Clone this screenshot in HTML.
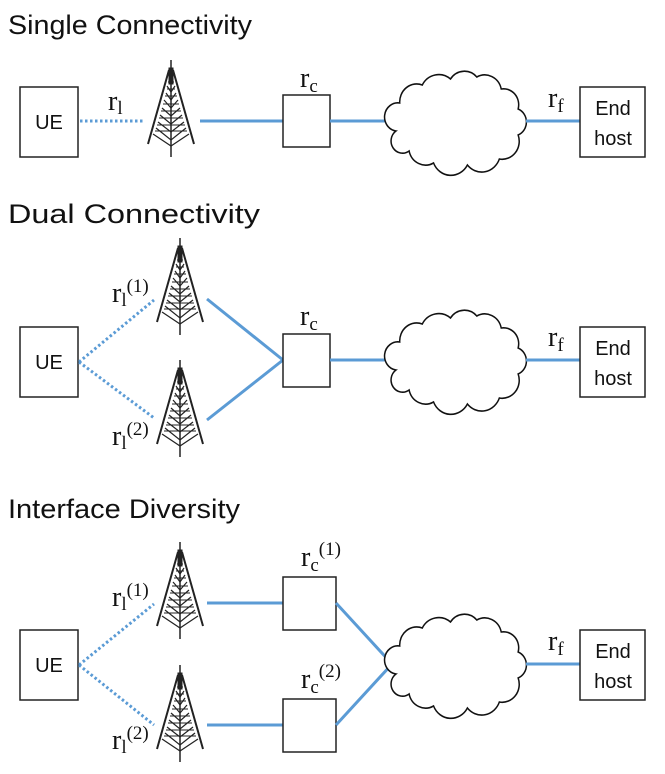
<!DOCTYPE html>
<html><head><meta charset="utf-8"><style>
html,body{margin:0;padding:0;background:#fff}
svg{display:block}
.t{font-family:"Liberation Sans",sans-serif;font-size:27px;fill:#111}
.s{font-family:"Liberation Sans",sans-serif;font-size:20px;fill:#111}
.m{font-family:"Liberation Serif",serif;font-size:28px;fill:#111}
.sub{font-size:19px}
.box{fill:#fff;stroke:#222;stroke-width:1.5}
.bl{stroke:#5b9bd5;stroke-width:3;fill:none}
.dt{stroke:#5b9bd5;stroke-width:3;fill:none;stroke-dasharray:2.5 2.5}
.cl{fill:#fff;stroke:#111;stroke-width:1.6}
</style></head><body>
<svg width="665" height="774" viewBox="0 0 665 774" xmlns="http://www.w3.org/2000/svg">
<defs>
<g id="tw" stroke="#222" fill="none">
<line x1="0" y1="0" x2="0" y2="97" stroke-width="1.5"/>
<path d="M-2,10 L-23,84 M2,10 L23,84" stroke-width="2"/>
<path d="M-2,18 L0,24 L2,18 M-4,26 L0,32 L4,26 M-5,33 L0,40 L5,33 M-7,40 L0,48 L7,40 M-9,48 L0,56 L9,48 M-11,55 L0,64 L11,55 M-13,62 L0,72 L13,62 M-15,68 L0,80 L15,68 M-18,74 L0,86 L18,74" stroke-width="1.2"/>
<path d="M-3,22 L3,22 M-4,29 L4,29 M-6,36 L6,36 M-8,44 L8,44 M-10,51 L10,51 M-12,58 L12,58 M-14,65 L14,65 M-16,71 L16,71" stroke-width="1"/>
<rect x="-2" y="8" width="4" height="16" fill="#222"/>
</g>
<path id="cloud" transform="scale(0.94,1)" d="M-66,10 A14,14 0 0 1 -62,-18 A18,18 0 0 1 -38,-36 A20,20 0 0 1 -8,-42 A18,18 0 0 1 20,-44 A18,18 0 0 1 46,-32 A16,16 0 0 1 64,-12 A14,14 0 0 1 64,14 A18,18 0 0 1 44,38 A20,20 0 0 1 10,44 A20,20 0 0 1 -26,42 A18,18 0 0 1 -52,30 A12,12 0 0 1 -66,10 Z"/>
</defs>

<!-- Section 1 -->
<text class="t" x="8" y="34" textLength="244" lengthAdjust="spacingAndGlyphs">Single Connectivity</text>
<rect class="box" x="20" y="87" width="58" height="70"/>
<text class="s" x="49" y="129" text-anchor="middle">UE</text>
<line class="dt" x1="80" y1="121" x2="144" y2="121"/>
<text class="m" x="108" y="110">r<tspan class="sub" dy="4">l</tspan></text>
<use href="#tw" x="171" y="60"/>
<line class="bl" x1="200" y1="121" x2="283" y2="121"/>
<rect class="box" x="283" y="95" width="47" height="52"/>
<text class="m" x="300" y="87">r<tspan class="sub" dy="5">c</tspan></text>
<line class="bl" x1="330" y1="121" x2="392" y2="121"/>
<use href="#cloud" x="458" y="121" class="cl"/>
<line class="bl" x1="526" y1="121" x2="580" y2="121"/>
<text class="m" x="548" y="107">r<tspan class="sub" dy="5">f</tspan></text>
<rect class="box" x="580" y="87" width="65" height="70"/>
<text class="s" x="613" y="115" text-anchor="middle">End</text>
<text class="s" x="613" y="145" text-anchor="middle">host</text>

<!-- Section 2 -->
<text class="t" x="8" y="223" textLength="252" lengthAdjust="spacingAndGlyphs">Dual Connectivity</text>
<rect class="box" x="20" y="327" width="58" height="70"/>
<text class="s" x="49" y="369" text-anchor="middle">UE</text>
<line class="dt" x1="79" y1="362" x2="154" y2="300"/>
<line class="dt" x1="79" y1="362" x2="154" y2="418"/>
<text class="m" x="112" y="302">r<tspan class="sub" dy="4">l</tspan><tspan class="sub" dy="-14">(1)</tspan></text>
<text class="m" x="112" y="445">r<tspan class="sub" dy="4">l</tspan><tspan class="sub" dy="-14">(2)</tspan></text>
<use href="#tw" x="180" y="238"/>
<use href="#tw" x="180" y="360"/>
<line class="bl" x1="207" y1="299" x2="283" y2="360"/>
<line class="bl" x1="207" y1="420" x2="283" y2="360"/>
<rect class="box" x="283" y="334" width="47" height="53"/>
<text class="m" x="300" y="325">r<tspan class="sub" dy="5">c</tspan></text>
<line class="bl" x1="330" y1="360" x2="392" y2="360"/>
<use href="#cloud" x="458" y="360" class="cl"/>
<line class="bl" x1="526" y1="360" x2="580" y2="360"/>
<text class="m" x="548" y="346">r<tspan class="sub" dy="5">f</tspan></text>
<rect class="box" x="580" y="327" width="65" height="70"/>
<text class="s" x="613" y="355" text-anchor="middle">End</text>
<text class="s" x="613" y="385" text-anchor="middle">host</text>

<!-- Section 3 -->
<text class="t" x="8" y="518" textLength="232" lengthAdjust="spacingAndGlyphs">Interface Diversity</text>
<rect class="box" x="20" y="630" width="58" height="70"/>
<text class="s" x="49" y="672" text-anchor="middle">UE</text>
<line class="dt" x1="79" y1="665" x2="154" y2="604"/>
<line class="dt" x1="79" y1="665" x2="154" y2="725"/>
<text class="m" x="112" y="606">r<tspan class="sub" dy="4">l</tspan><tspan class="sub" dy="-14">(1)</tspan></text>
<text class="m" x="112" y="749">r<tspan class="sub" dy="4">l</tspan><tspan class="sub" dy="-14">(2)</tspan></text>
<use href="#tw" x="180" y="542"/>
<use href="#tw" x="180" y="665"/>
<line class="bl" x1="207" y1="603" x2="283" y2="603"/>
<line class="bl" x1="207" y1="725" x2="283" y2="725"/>
<rect class="box" x="283" y="577" width="53" height="53"/>
<rect class="box" x="283" y="699" width="53" height="53"/>
<text class="m" x="301" y="566">r<tspan class="sub" dy="5">c</tspan><tspan class="sub" dy="-16">(1)</tspan></text>
<text class="m" x="301" y="688">r<tspan class="sub" dy="5">c</tspan><tspan class="sub" dy="-16">(2)</tspan></text>
<line class="bl" x1="336" y1="603" x2="392" y2="664"/>
<line class="bl" x1="336" y1="725" x2="392" y2="664"/>
<use href="#cloud" x="458" y="664" class="cl"/>
<line class="bl" x1="526" y1="664" x2="580" y2="664"/>
<text class="m" x="548" y="650">r<tspan class="sub" dy="5">f</tspan></text>
<rect class="box" x="580" y="630" width="65" height="70"/>
<text class="s" x="613" y="658" text-anchor="middle">End</text>
<text class="s" x="613" y="688" text-anchor="middle">host</text>
</svg>
</body></html>
